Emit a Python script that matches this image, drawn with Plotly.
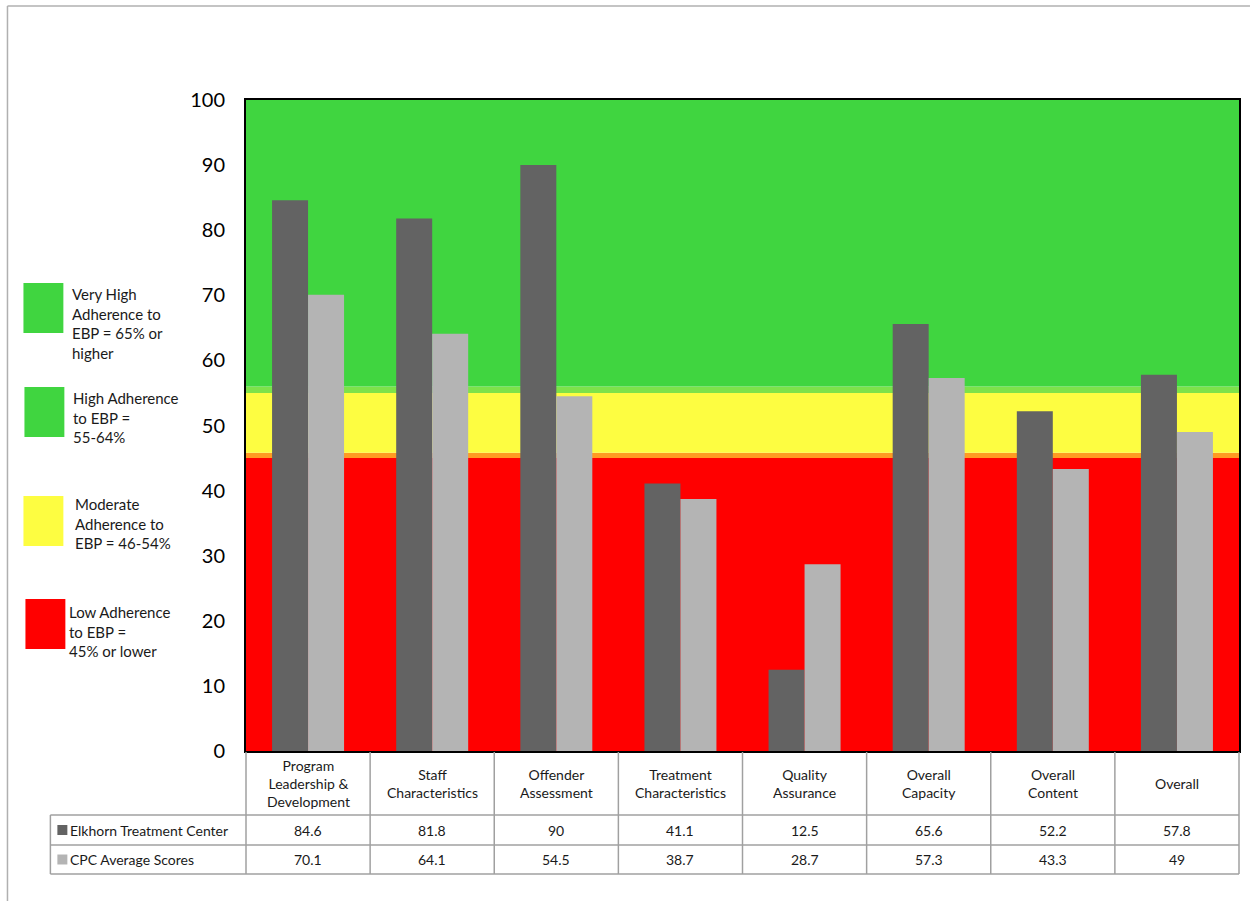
import plotly.graph_objects as go

categories = ["Program<br>Leadership &<br>Development", "Staff<br>Characteristics", "Offender<br>Assessment",
              "Treatment<br>Characteristics", "Quality<br>Assurance", "Overall<br>Capacity",
              "Overall<br>Content", "Overall"]
series_names = ["Elkhorn Treatment Center", "CPC Average Scores"]
elkhorn = [84.6, 81.8, 90, 41.1, 12.5, 65.6, 52.2, 57.8]
cpc = [70.1, 64.1, 54.5, 38.7, 28.7, 57.3, 43.3, 49]
y_ticks = [0, 10, 20, 30, 40, 50, 60, 70, 80, 90, 100]

# adherence bands (value ranges)
bands = [(0, 45, "#ff0000"), (45, 45.8, "#ff9a22"), (45.8, 55, "#fdfd41"),
         (55, 56, "#7de24a"), (56, 100, "#40d540")]
legend_items = [
    ("#40d540", "Very High<br>Adherence to<br>EBP = 65% or<br>higher"),
    ("#40d540", "High Adherence<br>to EBP =<br>55-64%"),
    ("#fdfd41", "Moderate<br>Adherence to<br>EBP = 46-54%"),
    ("#ff0000", "Low Adherence<br>to EBP =<br>45% or lower"),
]

FONT = "Lato, 'Open Sans', sans-serif"
TXT = "#1a1a1a"
DARK = "#636363"
LIGHT = "#b4b4b4"
GRID = "#a0a0a0"

WIDTH, HEIGHT = 1252, 901
L, R, T, B = 246, 11, 100, 150
PW = WIDTH - L - R
PH = HEIGHT - T - B


def px(X):
    return (X - L) / PW


def py(Y):
    return (HEIGHT - B - Y) / PH


x_idx = list(range(len(categories)))

fig = go.Figure()
fig.add_trace(go.Bar(x=x_idx, y=elkhorn, name=series_names[0], marker=dict(color=DARK, line=dict(width=0)),
                     hoverinfo="y"))
fig.add_trace(go.Bar(x=x_idx, y=cpc, name=series_names[1], marker=dict(color=LIGHT, line=dict(width=0)),
                     hoverinfo="y"))

shapes = []
for lo, hi, col in bands:
    shapes.append(dict(type="rect", xref="paper", yref="y", x0=0, x1=1, y0=lo, y1=hi,
                       fillcolor=col, line=dict(width=0), layer="below"))

# outer frame
shapes.append(dict(type="line", xref="paper", yref="paper", x0=px(7), x1=px(7), y0=py(6), y1=py(HEIGHT),
                   line=dict(color="#b0b0b0", width=1.5)))
shapes.append(dict(type="line", xref="paper", yref="paper", x0=px(7), x1=px(WIDTH), y0=py(6), y1=py(6),
                   line=dict(color="#b0b0b0", width=1.5)))

# table grid
n = len(categories)
row_y = [752, 815, 845, 874]
for i in range(n + 1):
    shapes.append(dict(type="line", xref="paper", yref="paper", x0=i / n, x1=i / n,
                       y0=py(row_y[0]), y1=py(row_y[-1]), line=dict(color=GRID, width=1.5)))
shapes.append(dict(type="line", xref="paper", yref="paper", x0=px(50), x1=px(50),
                   y0=py(row_y[1]), y1=py(row_y[-1]), line=dict(color=GRID, width=1.5)))
for Y in row_y[1:]:
    shapes.append(dict(type="line", xref="paper", yref="paper", x0=px(50), x1=1,
                       y0=py(Y), y1=py(Y), line=dict(color=GRID, width=1.5)))

annotations = []
for i, c in enumerate(categories):
    annotations.append(dict(x=i, xref="x", y=py((row_y[0] + row_y[1]) / 2), yref="paper", text=c,
                            showarrow=False, font=dict(size=14, color=TXT, family=FONT), align="center",
                            xanchor="center", yanchor="middle"))
for r, (vals, col, name) in enumerate([(elkhorn, DARK, series_names[0]), (cpc, LIGHT, series_names[1])]):
    yc = (row_y[r + 1] + row_y[r + 2]) / 2
    for i, v in enumerate(vals):
        annotations.append(dict(x=i, xref="x", y=py(yc), yref="paper", text=f"{v:g}", showarrow=False,
                                font=dict(size=14, color=TXT, family=FONT), xanchor="center",
                                yanchor="middle"))
    shapes.append(dict(type="rect", xref="paper", yref="paper", x0=px(57), x1=px(67),
                       y0=py(yc - 5), y1=py(yc + 5), fillcolor=col, line=dict(width=0)))
    annotations.append(dict(x=px(68), xref="paper", y=py(yc), yref="paper", text=name, showarrow=False,
                            font=dict(size=14, color=TXT, family=FONT), xanchor="left", yanchor="middle"))

# adherence legend
leg_boxes = [(23, 283), (24, 387), (23, 496), (25, 599)]
leg_text = [(70, 283), (71, 387), (73, 493), (67, 601)]
for (bx, by), (tx, ty), (col, txt) in zip(leg_boxes, leg_text, legend_items):
    shapes.append(dict(type="rect", xref="paper", yref="paper", x0=px(bx), x1=px(bx + 40),
                       y0=py(by), y1=py(by + 50), fillcolor=col, line=dict(width=0)))
    annotations.append(dict(x=px(tx), xref="paper", y=py(ty), yref="paper", text=txt, showarrow=False,
                            font=dict(size=15, color=TXT, family=FONT), xanchor="left", yanchor="top",
                            align="left"))

fig.update_layout(
    width=WIDTH, height=HEIGHT,
    margin=dict(l=L, r=R, t=T, b=B, pad=0),
    paper_bgcolor="white", plot_bgcolor="white",
    barmode="group", bargap=0.42, bargroupgap=0,
    showlegend=False,
    shapes=shapes, annotations=annotations,
    font=dict(family=FONT, color=TXT),
)
fig.update_xaxes(range=[-0.5, n - 0.5], showticklabels=False, ticks="", showgrid=False, zeroline=False,
                 showline=True, linecolor="black", linewidth=2, mirror=True)
fig.update_yaxes(range=[0, 100], tickvals=y_ticks, ticks="", showgrid=False, zeroline=False,
                 showline=True, linecolor="black", linewidth=2, mirror=True,
                 tickfont=dict(size=20, color="black", family=FONT), ticklabelstandoff=15)

fig.write_html("out.html")
